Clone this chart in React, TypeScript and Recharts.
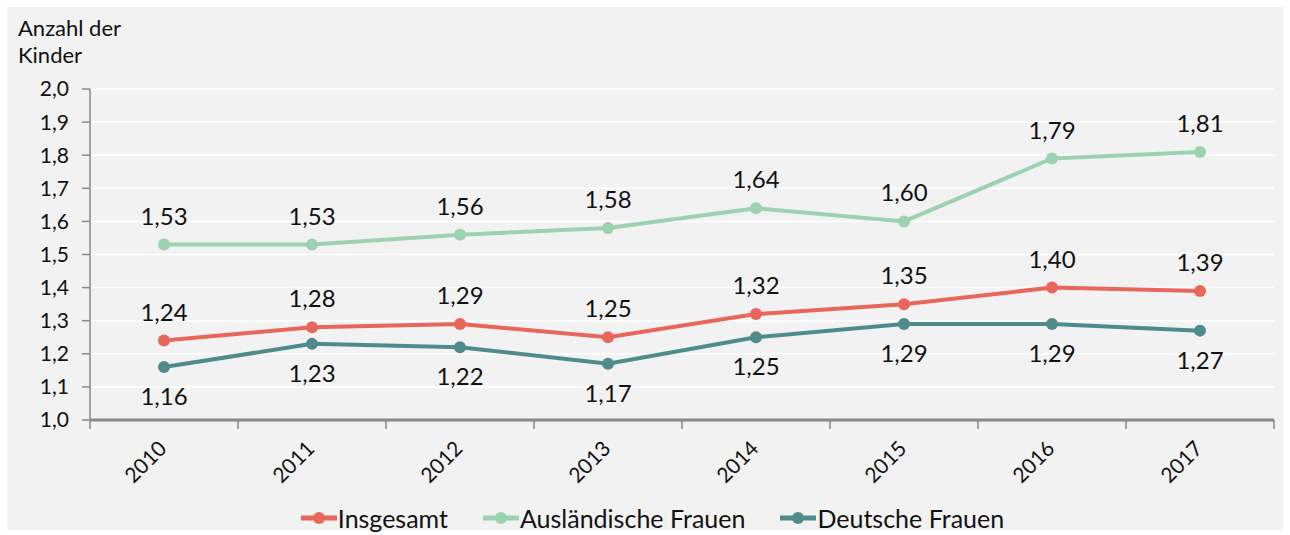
import { CartesianGrid, LabelList, Legend, Line, LineChart, XAxis, YAxis } from "recharts";

const years = ["2010", "2011", "2012", "2013", "2014", "2015", "2016", "2017"];
const insgesamt = [1.24, 1.28, 1.29, 1.25, 1.32, 1.35, 1.4, 1.39];
const auslaendisch = [1.53, 1.53, 1.56, 1.58, 1.64, 1.6, 1.79, 1.81];
const deutsch = [1.16, 1.23, 1.22, 1.17, 1.25, 1.29, 1.29, 1.27];
const yTicks = [1.0, 1.1, 1.2, 1.3, 1.4, 1.5, 1.6, 1.7, 1.8, 1.9, 2.0];

const data = years.map((y, i) => ({
  year: y,
  insgesamt: insgesamt[i],
  auslaendisch: auslaendisch[i],
  deutsch: deutsch[i],
}));

const series = [
  { key: "insgesamt", name: "Insgesamt", color: "#e8665a", pos: "top" },
  { key: "auslaendisch", name: "Ausländische Frauen", color: "#9dd2b1", pos: "top" },
  { key: "deutsch", name: "Deutsche Frauen", color: "#4f8b8b", pos: "bottom" },
];

const FONT = "Lato, sans-serif";
const W = 1276;
const H = 523;
const BAND = (W - 83 - 9) / years.length;

const fmt = (v: number, d: number) => v.toFixed(d).replace(".", ",");

function XTick(props: any) {
  const { x, y, payload, index } = props;
  const tx = x - 8;
  const ty = y + 10;
  return (
    <g>
      <line x1={x - BAND / 2} y1={y - 8} x2={x - BAND / 2} y2={y + 1} stroke="#888" strokeWidth={1.5} />
      {index === years.length - 1 && (
        <line x1={x + BAND / 2} y1={y - 8} x2={x + BAND / 2} y2={y + 1} stroke="#888" strokeWidth={1.5} />
      )}
      <text
        x={tx}
        y={ty}
        textAnchor="end"
        transform={`rotate(-45, ${tx}, ${ty})`}
        fontSize={21}
        fontFamily={FONT}
        fill="#111"
        dominantBaseline="hanging"
      >
        {payload.value}
      </text>
    </g>
  );
}

function LegendContent() {
  return (
    <div style={{ display: "flex", justifyContent: "center", gap: 35, paddingLeft: 24, fontFamily: FONT, fontSize: 25, color: "#111", height: 24, alignItems: "center" }}>
      {series.map((s) => (
        <div key={s.key} style={{ display: "flex", alignItems: "center" }}>
          <svg width={36} height={14}>
            <line x1={0} y1={7} x2={36} y2={7} stroke={s.color} strokeWidth={5} />
            <circle cx={18} cy={7} r={6} fill={s.color} />
          </svg>
          <span style={{ marginLeft: 1 }}>{s.name}</span>
        </div>
      ))}
    </div>
  );
}

export default function App() {
  return (
    <div style={{ position: "absolute", left: 7, top: 7, width: W, height: H, background: "#f2f2f2" }}>
      <div style={{ position: "absolute", left: 11, top: 7, fontFamily: FONT, fontSize: 22, lineHeight: "27px", color: "#111" }}>
        Anzahl der
        <br />
        Kinder
      </div>
      <LineChart width={W} height={H} data={data} margin={{ top: 82, right: 9, left: 0, bottom: 0 }}>
        <CartesianGrid horizontal vertical={false} stroke="#ffffff" strokeWidth={1.5} />
        <XAxis
          dataKey="year"
          height={86}
          padding={{ left: BAND / 2, right: BAND / 2 }}
          axisLine={{ stroke: "#888", strokeWidth: 3 }}
          tickLine={false}
          tick={<XTick />}
          interval={0}
        />
        <YAxis
          domain={[1, 2]}
          ticks={yTicks}
          width={83}
          axisLine={{ stroke: "#888", strokeWidth: 1.5 }}
          tickLine={{ stroke: "#888", strokeWidth: 1.5 }}
          tickSize={8}
          tickMargin={13}
          tickFormatter={(v: number) => fmt(v, 1)}
          tick={{ fontSize: 21, fontFamily: FONT, fill: "#111" }}
        />
        <Legend verticalAlign="bottom" height={24} content={<LegendContent />} />
        {series.map((s) => (
          <Line
            key={s.key}
            dataKey={s.key}
            name={s.name}
            stroke={s.color}
            strokeWidth={4}
            dot={{ r: 6, fill: s.color, stroke: s.color, strokeWidth: 0 }}
            isAnimationActive={false}
          >
            <LabelList
              dataKey={s.key}
              position={s.pos as any}
              offset={s.pos === "top" ? 20 : 21}
              formatter={(v: any) => fmt(Number(v), 2)}
              style={{ fontSize: 24, fontFamily: FONT, fill: "#111" }}
            />
          </Line>
        ))}
      </LineChart>
    </div>
  );
}
